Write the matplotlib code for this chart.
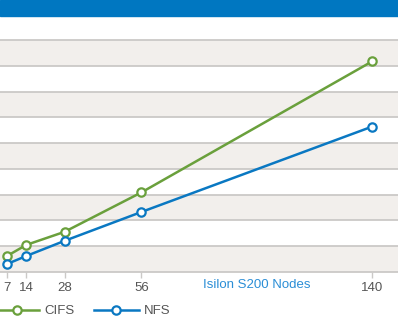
import matplotlib.pyplot as plt
from matplotlib.patches import Rectangle
from matplotlib.transforms import blended_transform_factory

# Throughput relative to node count (gridline units)
nodes = [7, 14, 28, 56, 140]
cifs = [0.62, 1.05, 1.56, 3.09, 8.17]
nfs = [0.31, 0.62, 1.21, 2.33, 5.64]
xlabel = "Isilon S200 Nodes"

green = "#6aa03c"
blue = "#0a78c2"
grid = "#cbc9c7"
stripe = "#f2efec"
text_gray = "#555555"

plt.rcParams["font.family"] = ["Liberation Sans", "DejaVu Sans"]

W, H = 398, 324
fig = plt.figure(figsize=(W / 100, H / 100), dpi=100)

# axes: bottom at y=272px, ten bands of ~25.7px up to y=14.3px
bottom_px, top_px = 272, 14.3
ax = fig.add_axes([0, (H - bottom_px) / H, 1, (bottom_px - top_px) / H])

px_per_unit = 365 / 133
ax.set_xlim(7 - 7 / px_per_unit, 7 + (W - 7) / px_per_unit)
ax.set_ylim(0, 10)

# alternating background bands
for k in range(0, 10, 2):
    ax.axhspan(k, k + 1, color=stripe, lw=0, zorder=0)
for k in range(1, 11):
    ax.axhline(k, color=grid, lw=1.3, zorder=1)

ax.plot(nodes, cifs, color=green, lw=1.8, marker="o", ms=6,
        mfc="white", mec=green, mew=1.6, label="CIFS", zorder=3, clip_on=False)
ax.plot(nodes, nfs, color=blue, lw=1.8, marker="o", ms=6,
        mfc="white", mec=blue, mew=1.6, label="NFS", zorder=3, clip_on=False)

for s in ["top", "left", "right"]:
    ax.spines[s].set_visible(False)
ax.spines["bottom"].set_color(grid)
ax.spines["bottom"].set_linewidth(1.3)
ax.set_yticks([])
ax.set_xticks(nodes)
ax.set_xticklabels([str(n) for n in nodes])
ax.tick_params(axis="x", length=4, width=1, color=grid, colors=text_gray,
               labelsize=9.5, pad=3)
for t in ax.get_xticklines():
    t.set_color(grid)

trans = blended_transform_factory(ax.transData, ax.transAxes)
ax.text(98, -0.05, xlabel, transform=trans, ha="center", va="center",
        color="#2b8ed6", fontsize=9.5)

leg = ax.legend(loc="center left", bbox_to_anchor=(-0.014, (H - 311) / H),
                bbox_transform=fig.transFigure, ncol=2, frameon=False,
                handlelength=3.4, handletextpad=0.35, columnspacing=1.5,
                borderpad=0, borderaxespad=0, fontsize=9.5)
for t in leg.get_texts():
    t.set_color(text_gray)

# header band
fig.add_artist(Rectangle((0, (H - 15.5) / H), 1, 15.5 / H,
                         transform=fig.transFigure, color="#0077c1", zorder=10))

fig.savefig("out.png", dpi=100)
